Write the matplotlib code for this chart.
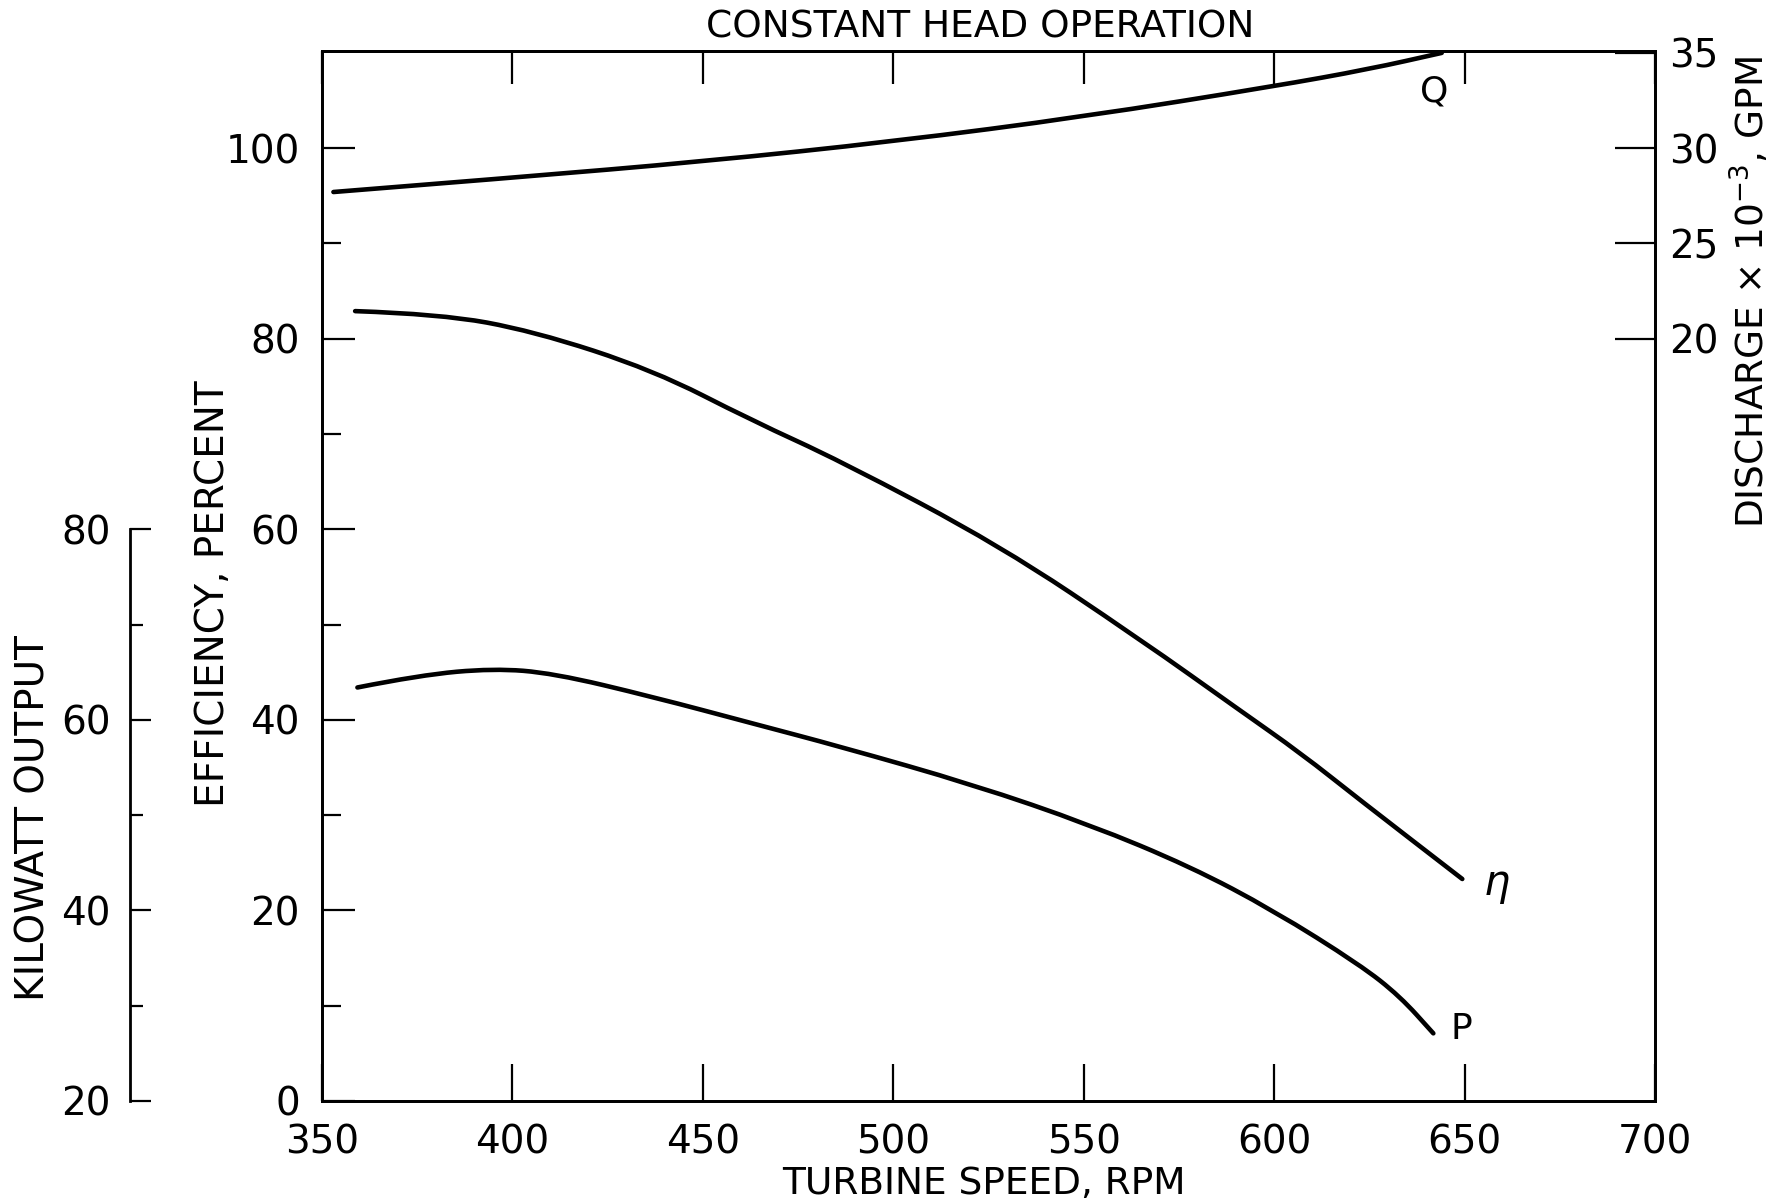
import matplotlib
matplotlib.use("Agg")
import matplotlib.pyplot as plt
from matplotlib.path import Path
from matplotlib.patches import PathPatch

# DATA ----------------------------------------------------------------------

rpm_q = [353, 400, 450, 500, 550, 600, 625, 644]
discharge = [27.7, 28.45, 29.3, 30.35, 31.65, 33.25, 34.15, 35.0]

rpm_eff = [358.7, 381, 405.5, 437, 463, 486, 528, 565, 591, 607, 622.5, 649.4]
efficiency = [82.9, 82.6, 80.8, 76.7, 71.4, 67.2, 58.3, 48.4, 41.0, 36.5, 31.6, 23.3]

rpm_p = [359.3, 375.7, 395, 410.7, 437, 463.3, 486, 521, 551.6, 578, 599.8, 622.5, 633, 641.8]
kilowatt = [63.4, 64.7, 65.4, 64.9, 62.4, 59.6, 57.2, 53.2, 49.0, 44.6, 40.0, 34.3, 31.0, 27.1]

x_ticks = [350, 400, 450, 500, 550, 600, 650, 700]
eff_ticks = [0, 20, 40, 60, 80, 100]
eff_minor = [10, 30, 50, 70, 90]
q_ticks = [20, 25, 30, 35]
kw_ticks = [20, 40, 60, 80]
kw_minor = [30, 50, 70]


def smooth_curve(axis, xs, ys, lw):
    # quadratic bezier through the midpoints, so the pen line has no kinks
    pts = list(zip(xs, ys))
    verts = [pts[0]]
    codes = [Path.MOVETO]
    for i in range(1, len(pts) - 1):
        mid = ((pts[i][0] + pts[i + 1][0]) / 2, (pts[i][1] + pts[i + 1][1]) / 2)
        verts += [pts[i], mid]
        codes += [Path.CURVE3, Path.CURVE3]
    verts.append(pts[-1])
    codes.append(Path.LINETO)
    patch = PathPatch(Path(verts, codes), transform=axis.transData, fill=False,
                      edgecolor="black", lw=lw, capstyle="round", joinstyle="round")
    axis.add_patch(patch)


# FIGURE --------------------------------------------------------------------
W, H = 1783, 1204
fig = plt.figure(figsize=(W / 100, H / 100), dpi=100)
plt.rcParams["font.family"] = "DejaVu Sans"

left, right, top, bottom = 322, 1655, 51, 1101
ax = fig.add_axes([left / W, 1 - bottom / H, (right - left) / W, (bottom - top) / H])

LW = 3.3
TS = 28
smooth_curve(ax, rpm_eff, efficiency, LW)
ax.set_xlim(350, 700)
ax.set_ylim(0, 110.2)

for s in ax.spines.values():
    s.set_linewidth(2)

ax.set_xticks(x_ticks)
ax.tick_params(axis="x", direction="in", length=27, width=1.6, pad=16, labelsize=TS)
ax.set_yticks(eff_ticks)
ax.set_yticks(eff_minor, minor=True)
ax.tick_params(axis="y", which="major", direction="in", length=24, width=1.6, pad=16, labelsize=TS)
ax.tick_params(axis="y", which="minor", direction="in", length=14, width=1.6)

top_ax = ax.secondary_xaxis("top")
top_ax.set_xticks(x_ticks)
top_ax.tick_params(direction="in", length=24, width=1.6, labeltop=False)
top_ax.spines["top"].set_linewidth(2)

# discharge axis (right)
axq = ax.twinx()
axq.set_ylim(-20, 35.1)
smooth_curve(axq, rpm_q, discharge, LW)
axq.set_yticks(q_ticks)
axq.tick_params(axis="y", direction="in", length=29, width=1.6, pad=10, labelsize=TS)
for s in axq.spines.values():
    s.set_linewidth(2)

# kilowatt axis (far left)
axk = ax.twinx()
axk.set_ylim(20, 130.2)
smooth_curve(axk, rpm_p, kilowatt, LW)
axk.yaxis.set_ticks_position("left")
axk.spines["left"].set_position(("outward", 138))
axk.spines["left"].set_bounds(20, 80)
axk.spines["left"].set_linewidth(2)
for k in ["right", "top", "bottom"]:
    axk.spines[k].set_visible(False)
axk.set_yticks(kw_ticks)
axk.set_yticks(kw_minor, minor=True)
axk.tick_params(axis="y", which="major", direction="in", length=15, width=1.6, pad=14, labelsize=TS)
axk.tick_params(axis="y", which="minor", direction="in", length=9, width=1.6)

# curve labels
ax.text(642, 106.0, "Q", fontsize=26, ha="center", va="center")
ax.text(658.4, 22.7, r"$\eta$", fontsize=30, ha="center", va="center")
ax.text(649.2, 7.6, "P", fontsize=26, ha="center", va="center")

# titles
fig.text(980 / W, 1 - 28 / H, "CONSTANT HEAD OPERATION", fontsize=27, ha="center", va="center")
fig.text(984 / W, 1 - 1184 / H, "TURBINE SPEED, RPM", fontsize=27, ha="center", va="center")
fig.text(213 / W, 1 - 594 / H, "EFFICIENCY, PERCENT", fontsize=28, rotation=90, ha="center", va="center")
fig.text(34 / W, 1 - 818 / H, "KILOWATT OUTPUT", fontsize=28, rotation=90, ha="center", va="center")
fig.text(1751 / W, 1 - 292 / H, "DISCHARGE × 10$^{-3}$, GPM", fontsize=27, rotation=90,
         ha="center", va="center")

fig.savefig("out.png", dpi=100)
